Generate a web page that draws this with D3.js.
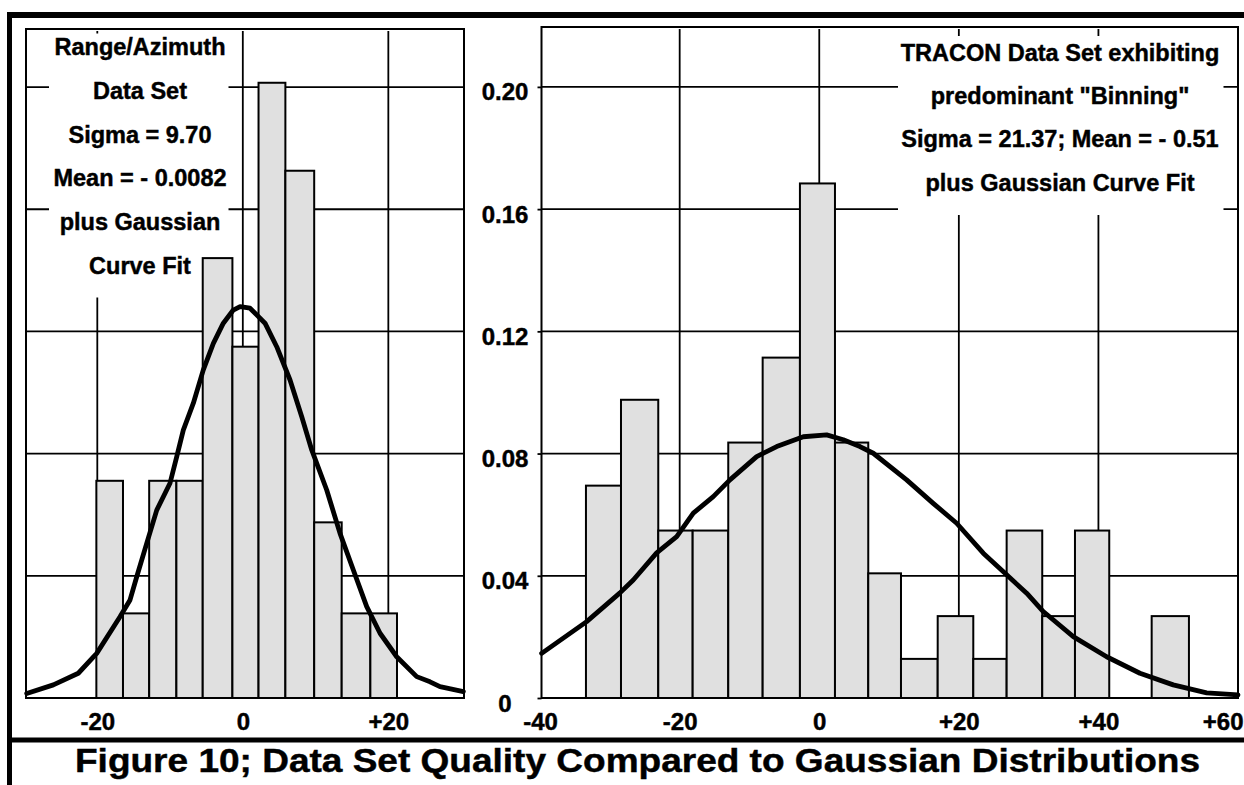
<!DOCTYPE html>
<html>
<head>
<meta charset="utf-8">
<script src="https://cdn.jsdelivr.net/npm/d3@7/dist/d3.min.js"></script>
<style>
  html, body { margin: 0; padding: 0; background: #fff; }
  svg { display: block; }
  text { font-family: "Liberation Sans", Arial, Helvetica, sans-serif; font-weight: bold; fill: #000; stroke: #000; stroke-width: 0.45px; }
</style>
</head>
<body>
<svg id="fig" width="1244" height="785"></svg>
<script>
// ---- Range/Azimuth data set: histogram (bin edges, relative frequency) ----
const rangeAzEdges = [-20.13, -16.47, -12.87, -9.13, -5.51, -1.43, 2.16, 5.85, 9.81, 13.59, 17.53, 21.19];
const rangeAzFreq  = [0.0711, 0.0277, 0.0711, 0.0711, 0.1440, 0.1150, 0.2014, 0.1726, 0.0575, 0.0277, 0.0277];

// Gaussian fit curve for the Range/Azimuth set (sampled points)
const rangeAzFitX = [-29.70, -26.04, -22.61, -20.08, -16.88, -15.50, -14.58, -13.21, -11.83, -10.01, -9.08, -8.18,
                     -6.80, -5.43, -4.05, -2.68, -1.31, -0.38, 0.99, 3.05, 4.66, 6.49, 8.10, 9.47, 11.53, 13.36,
                     15.19, 17.03, 18.86, 21.15, 23.90, 25.73, 27.10, 30.31];
const rangeAzFitY = [0.0015, 0.0043, 0.0081, 0.0146, 0.0266, 0.0321, 0.0397, 0.0506, 0.0615, 0.0703, 0.0790, 0.0877,
                     0.0965, 0.1074, 0.1161, 0.1227, 0.1270, 0.1281, 0.1276, 0.1227, 0.1150, 0.1041, 0.0921, 0.0812, 0.0681, 0.0539,
                     0.0419, 0.0299, 0.0212, 0.0135, 0.0070, 0.0053, 0.0037, 0.0021];

// ---- TRACON data set: histogram (bin edges, relative frequency) ----
const traconEdges = [-33.43, -28.41, -23.07, -18.14, -13.04, -8.11, -2.77, 2.25, 7.02, 11.71, 16.97, 22.07,
                     26.85, 31.95, 36.64, 41.55, 47.63, 52.97];
const traconFreq  = [0.0695, 0.0976, 0.0548, 0.0548, 0.0836, 0.1114, 0.1684, 0.0836, 0.0408, 0.0128, 0.0268, 0.0128,
                     0.0548, 0.0268, 0.0548, 0, 0.0268];

// Gaussian fit curve for the TRACON set (sampled points)
const traconFitX = [-39.78, -33.33, -28.56, -26.65, -23.30, -20.43, -18.05, -15.19, -12.80, -8.97, -6.10, -2.29, 1.06,
                    3.44, 5.83, 7.74, 12.52, 16.33, 19.69, 23.50, 26.85, 29.72, 32.10, 36.40, 41.18, 45.95, 50.72, 55.51, 60.0];
const traconFitY = [0.0146, 0.0250, 0.0344, 0.0386, 0.0475, 0.0528, 0.0605, 0.0659, 0.0714, 0.0790, 0.0823, 0.0855, 0.0861,
                    0.0845, 0.0823, 0.0801, 0.0714, 0.0637, 0.0572, 0.0474, 0.0403, 0.0343, 0.0283, 0.0201, 0.0135, 0.0081, 0.0043, 0.0017, 0.0010];

// ---- Axis ticks and labels ----
const leftXTicks = [-20, 0, 20];
const leftXTickLabels = ["-20", "0", "+20"];
const rightXTicks = [-40, -20, 0, 20, 40, 60];
const rightXTickLabels = ["-40", "-20", "0", "+20", "+40", "+60"];
const yTicks = [0, 0.04, 0.08, 0.12, 0.16, 0.20];
const yTickLabels = ["0", "0.04", "0.08", "0.12", "0.16", "0.20"];

// ---- Annotation text ----
const rangeAzNote = ["Range/Azimuth", "Data Set", "Sigma = 9.70", "Mean = - 0.0082", "plus Gaussian", "Curve Fit"];
const traconNote = ["TRACON Data Set exhibiting", "predominant \"Binning\"", "Sigma = 21.37; Mean = - 0.51", "plus Gaussian Curve Fit"];
const figureTitle = "Figure 10; Data Set Quality Compared to Gaussian Distributions";

const W = 1244, H = 785;
const svg = d3.select("#fig");
const BAR_FILL = "#e0e0e0";
const FONT = "'Liberation Sans', Arial, Helvetica, sans-serif";

// Outer figure frame: heavy rules at top, left and above the caption
svg.append("rect").attr("x", 7).attr("y", 12).attr("width", W - 7).attr("height", 6).attr("fill", "#000");
svg.append("rect").attr("x", 7).attr("y", 12).attr("width", 5).attr("height", H - 12).attr("fill", "#000");
svg.append("rect").attr("x", 7).attr("y", 737.5).attr("width", W - 7).attr("height", 5).attr("fill", "#000");

function styleLabel(sel) {
  sel.style("font-size", "24px").style("font-family", FONT).style("font-weight", "bold")
     .attr("fill", "#000").attr("stroke", "#000").attr("stroke-width", 0.45);
}

function drawPanel(opts) {
  const { x, y, edges, freq, fitX, fitY, xTicks, xLabels, showY, note, noteBox, noteCx, noteY0, noteStep } = opts;
  const g = svg.append("g");
  const [x0, x1] = x.range();
  const [yb, yt] = y.range();

  // gridlines
  const grid = g.append("g").attr("stroke", "#000").attr("stroke-width", 1.8);
  grid.selectAll("line.h").data(yTicks.filter(v => v > 0)).join("line")
    .attr("x1", x0).attr("x2", x1)
    .attr("y1", d => y(d)).attr("y2", d => y(d));
  grid.selectAll("line.v").data(xTicks.filter(v => x(v) > x0 + 3 && x(v) < x1 - 3)).join("line")
    .attr("x1", d => x(d)).attr("x2", d => x(d))
    .attr("y1", yt + 2).attr("y2", yb);

  // white panel behind the annotation (hides the grid)
  g.append("rect")
    .attr("x", noteBox[0]).attr("y", noteBox[1])
    .attr("width", noteBox[2] - noteBox[0]).attr("height", noteBox[3] - noteBox[1])
    .attr("fill", "#fff");

  // histogram bars
  const bins = freq.map((f, i) => ({ lo: edges[i], hi: edges[i + 1], f })).filter(b => b.f > 0);
  g.append("g").selectAll("rect").data(bins).join("rect")
    .attr("x", d => x(d.lo)).attr("width", d => x(d.hi) - x(d.lo))
    .attr("y", d => y(d.f)).attr("height", d => y(0) - y(d.f))
    .attr("fill", BAR_FILL).attr("stroke", "#000").attr("stroke-width", 2);

  // Gaussian fit
  const line = d3.line().x(d => x(d[0])).y(d => y(d[1]));
  g.append("path")
    .datum(fitX.map((v, i) => [v, fitY[i]]))
    .attr("d", line)
    .attr("fill", "none").attr("stroke", "#000").attr("stroke-width", 4.8)
    .attr("stroke-linejoin", "round").attr("stroke-linecap", "round");

  // panel frame
  g.append("rect").attr("x", x0).attr("y", yt).attr("width", x1 - x0).attr("height", yb - yt)
    .attr("fill", "none").attr("stroke", "#000").attr("stroke-width", 2);

  // x axis labels
  const xa = g.append("g").attr("transform", `translate(0,${yb})`)
    .call(d3.axisBottom(x).tickValues(xTicks).tickSize(0).tickFormat((d, i) => xLabels[i]));
  xa.select(".domain").remove();
  xa.selectAll("text").attr("y", 32).attr("dy", 0).call(styleLabel);
  // a label running past the page edge is pulled back inside it
  xa.selectAll("text").filter(d => x(d) + 22 > W)
    .attr("text-anchor", "end").attr("x", d => W - 1 - x(d));

  // y axis labels (right panel only)
  if (showY) {
    const ya = g.append("g").attr("transform", `translate(${x0},0)`)
      .call(d3.axisLeft(y).tickValues(yTicks).tickSize(4).tickFormat((d, i) => yTickLabels[i]));
    ya.select(".domain").remove();
    ya.selectAll("line").attr("stroke", "#000").attr("stroke-width", 1.8);
    ya.selectAll("text").attr("x", -36.5).attr("y", 13).attr("dy", 0)
      .attr("text-anchor", "middle").call(styleLabel);
  }

  // annotation
  g.append("g").selectAll("text").data(note).join("text")
    .attr("x", noteCx).attr("y", (d, i) => noteY0 + i * noteStep)
    .attr("text-anchor", "middle").style("font-size", "23.5px")
    .text(d => d);
}

drawPanel({
  x: d3.scaleLinear().domain([-29.8, 30.4]).range([26, 464]),
  y: d3.scaleLinear().domain([0, 0.219]).range([698, 29]),
  edges: rangeAzEdges, freq: rangeAzFreq, fitX: rangeAzFitX, fitY: rangeAzFitY,
  xTicks: leftXTicks, xLabels: leftXTickLabels, showY: false,
  note: rangeAzNote, noteBox: [49, 33.5, 228.5, 297.5], noteCx: 140, noteY0: 55, noteStep: 43.8
});

drawPanel({
  x: d3.scaleLinear().domain([-39.8, 60]).range([541.5, 1238]),
  y: d3.scaleLinear().domain([0, 0.2196]).range([698, 27]),
  edges: traconEdges, freq: traconFreq, fitX: traconFitX, fitY: traconFitY,
  xTicks: rightXTicks, xLabels: rightXTickLabels, showY: true,
  note: traconNote, noteBox: [898, 36, 1223.5, 215], noteCx: 1060, noteY0: 61, noteStep: 43.2
});

// caption
svg.append("text")
  .attr("x", 75).attr("y", 772)
  .attr("textLength", 1125).attr("lengthAdjust", "spacingAndGlyphs")
  .style("font-size", "34px")
  .text(figureTitle);
</script>
</body>
</html>
